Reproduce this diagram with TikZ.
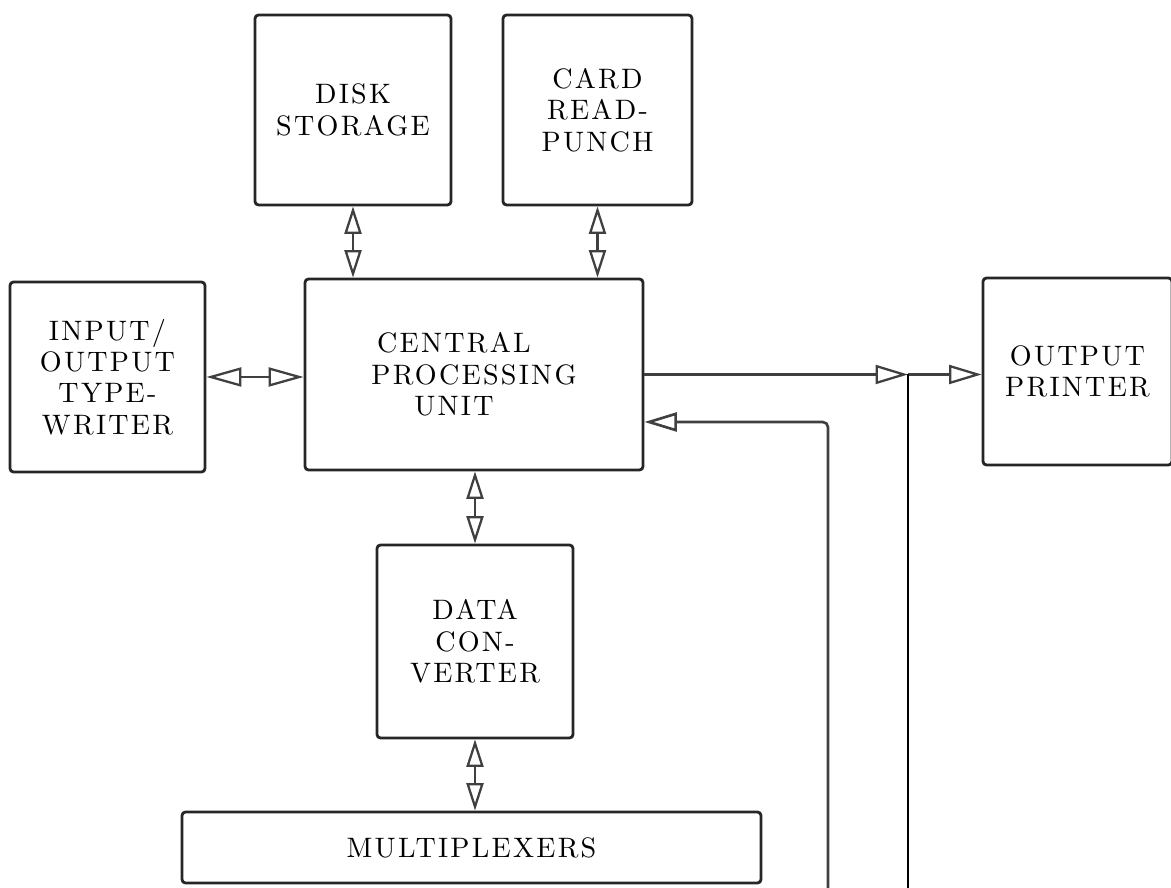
\documentclass[tikz,border=0pt]{standalone}
\usepackage{fontspec}
\newfontfamily\unitfont{lmroman10-regular.otf}[LetterSpace=8]
\usetikzlibrary{arrows.meta}
\begin{document}
\begin{tikzpicture}[
        unit/.style={draw=black!85, line width=1.6pt, rounded corners=2pt, align=center, inner sep=0pt,
            font=\unitfont\fontsize{16}{17.8}\selectfont},
        link/.style={draw=black!75, line width=1.3pt},
        bus/.style={draw=black, line width=1.6pt},
        vdbl/.style={link, {Triangle[open, length=0.55cm, width=0.34cm]}-{Triangle[open, length=0.55cm, width=0.34cm]}},
        hdbl/.style={link, {Triangle[open, length=0.7cm, width=0.38cm]}-{Triangle[open, length=0.7cm, width=0.38cm]}},
        feed/.style={link, -{Triangle[open, length=0.65cm, width=0.38cm]}}
    ]
    \useasboundingbox (0, 0) rectangle (23.42, 17.76);
    \def\boxh{3.8cm}
    \def\cpupad{\hspace*{0.8cm}}
    % units
    \node[unit, minimum width=3.92cm, minimum height=\boxh] (disk) at (7.06, 15.56) {DISK\\STORAGE};
    \node[unit, minimum width=3.78cm, minimum height=\boxh] (card) at (11.95, 15.56) {CARD\\READ-\\PUNCH};
    \node[unit, minimum width=3.9cm, minimum height=\boxh] (iotw) at (2.15, 10.22) {INPUT/\\OUTPUT\\TYPE-\\WRITER};
    \node[unit, minimum width=6.76cm, minimum height=3.82cm] (cpu) at (9.48, 10.27) {CENTRAL\cpupad\\PROCESSING\cpupad\\UNIT\cpupad};
    \node[unit, minimum width=3.78cm, minimum height=3.74cm] (printer) at (21.55, 10.33) {OUTPUT\\PRINTER};
    \node[unit, minimum width=3.92cm, minimum height=3.86cm] (conv) at (9.5, 4.93) {DATA\\CON-\\VERTER};
    \node[unit, minimum width=11.58cm, minimum height=1.42cm] (mux) at (9.43, 0.81) {MULTIPLEXERS};
    % two-way links
    \draw[vdbl] (disk.south) -- (disk.south |- cpu.north);
    \draw[vdbl] (card.south) -- (card.south |- cpu.north);
    \draw[vdbl] (conv.north |- cpu.south) -- (conv.north);
    \draw[vdbl] (conv.south) -- (conv.south |- mux.north);
    \draw[hdbl] (iotw.east) -- (iotw.east -| cpu.west);
    % output and feedback lines
    \coordinate (prfoot) at (18.16, 0);
    \coordinate (fbfoot) at (16.56, 0);
    \coordinate (split) at (cpu.east -| prfoot);
    \draw[feed] (cpu.east) -- (split);
    \draw[feed] (split) -- (split -| printer.west);
    \draw[bus] (split) -- (prfoot);
    \draw[feed, line width=1.5pt, rounded corners=3pt] (fbfoot) |- ([yshift=-0.95cm]cpu.east);
\end{tikzpicture}
\end{document}
